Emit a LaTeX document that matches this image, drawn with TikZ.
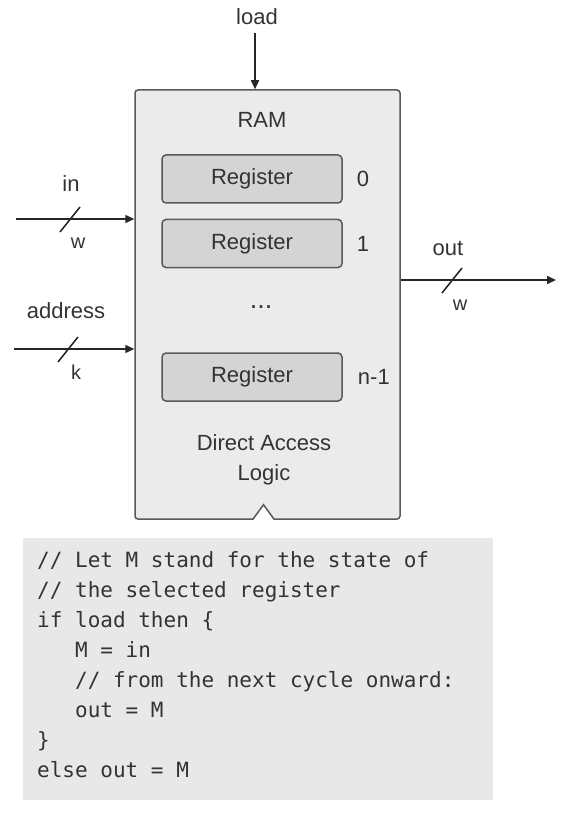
\documentclass[tikz,border=0pt]{standalone}
\usepackage{fontspec}
\setmainfont{Liberation Sans}
\setmonofont{DejaVu Sans Mono}
\usetikzlibrary{arrows.meta, positioning}

\begin{document}
\begin{tikzpicture}[
    x=1pt, y=-1pt,
    font=\fontsize{22}{26}\selectfont,
    txt/.style={text=black!80, inner sep=0pt},
    small/.style={txt, font=\fontsize{20}{24}\selectfont},
    ram/.style={draw=black!65, line width=1.5pt, fill=black!8, rounded corners=3pt, minimum width=265pt, minimum height=429pt},
    register/.style={draw=black!65, line width=1.5pt, fill=black!17, rounded corners=4pt, minimum width=180pt, minimum height=48pt, text=black!80},
    bus/.style={-{Triangle[length=9pt, width=8pt]}, line width=1.5pt, draw=black!85},
    slash/.style={line width=1.5pt, draw=black!85},
    codebox/.style={fill=black!9, minimum width=470pt, minimum height=262pt, inner sep=0pt},
    code/.style={text=black!80, inner sep=0pt, align=left, font=\fontsize{21}{30.1}\selectfont\ttfamily}
]
    \useasboundingbox (0,0) rectangle (560,818);

    % the RAM chip
    \node[ram] (ram) at (267.5,304.5) {};
    \node[txt] (title) at (262,120) {RAM};
    \node[register] (r0) at (252,179) {Register};
    \node[register, below=15pt of r0] (r1) {Register};
    \node[txt, font=\fontsize{27}{30}\selectfont] (dots) at (261,307) {...};
    \node[register] (rn) at (252,377) {Register};
    \node[txt, right=14pt of r0] (i0) {0};
    \node[txt, right=14pt of r1] (i1) {1};
    \node[txt, right=15pt of rn] (in1) {n-1};
    \node[txt, align=center, font=\fontsize{22}{30}\selectfont] (logic) at (264,460) {Direct Access\\Logic};
    \draw[draw=black!65, line width=1.5pt, fill=white]
        ([xshift=-15pt]ram.south) -- ([xshift=-4pt, yshift=15pt]ram.south) -- ([xshift=7pt]ram.south);

    % load
    \node[txt] (load) at (257,17) {load};
    \draw[bus] ([xshift=-2pt, yshift=-8pt]load.south) -- ([xshift=-2pt]load.south |- ram.north);

    % in
    \node[txt] (in) at (71,184) {in};
    \coordinate (inS) at (16,219);
    \coordinate (inW) at (70,219);
    \draw[bus] (inS) -- (inS -| ram.west);
    \draw[slash] ([xshift=-10pt, yshift=-13pt]inW) -- ([xshift=10pt, yshift=12pt]inW);
    \node[small] (w1) at (78,243) {w};

    % address
    \node[txt] (addr) at (66,311) {address};
    \coordinate (addrS) at (14,349);
    \coordinate (addrW) at (68,349);
    \draw[bus] (addrS) -- (addrS -| ram.west);
    \draw[slash] ([xshift=-10pt, yshift=-13pt]addrW) -- ([xshift=10pt, yshift=12pt]addrW);
    \node[small] (k) at (76,372) {k};

    % out
    \node[txt] (out) at (448,248) {out};
    \coordinate (outE) at (556,280);
    \coordinate (outW) at (452,280);
    \draw[bus] (outE -| ram.east) -- (outE);
    \draw[slash] ([xshift=-10pt, yshift=-13pt]outW) -- ([xshift=10pt, yshift=12pt]outW);
    \node[small] (w2) at (460,305) {w};

    % behaviour
    \node[codebox, anchor=north west] (box) at (23,538) {};
    \node[code, anchor=north west] (prog) at (37,551) {%
        // Let M stand for the state of\\
        // the selected register\\
        if load then \{\\
        \hphantom{xxx}M = in\\
        \hphantom{xxx}// from the next cycle onward:\\
        \hphantom{xxx}out = M\\
        \}\\
        else out = M};
\end{tikzpicture}
\end{document}
